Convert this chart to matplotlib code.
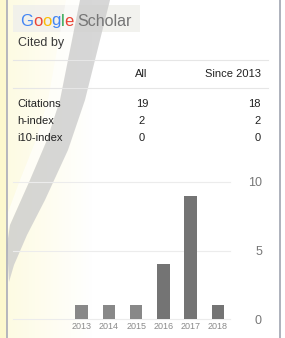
import numpy as np
import matplotlib
matplotlib.use("Agg")
import matplotlib.pyplot as plt
from matplotlib.patches import Polygon, Rectangle
from matplotlib.ft2font import FT2Font
from matplotlib.font_manager import findfont, FontProperties

annees = ["2013", "2014", "2015", "2016", "2017", "2018"]
citations_par_an = [1, 1, 1, 4, 9, 1]
lignes = ["Citations", "h-index", "i10-index"]
valeurs_tout = ["19", "2", "0"]
valeurs_depuis = ["18", "2", "0"]
graduations = [0, 5, 10]

plt.rcParams['font.family'] = ['Liberation Sans', 'DejaVu Sans']

W, H = 285, 338
fig = plt.figure(figsize=(W / 100, H / 100), dpi=100)
fig.patch.set_facecolor("white")

# fond en coordonnées pixels
bg = fig.add_axes([0, 0, 1, 1])
bg.set_xlim(0, W)
bg.set_ylim(H, 0)
bg.axis("off")

# teinte jaune à gauche, qui s'estompe
grad = np.zeros((1, W, 4))
xs = np.arange(W)
grad[0, :, 0] = 0.99
grad[0, :, 1] = 0.97
grad[0, :, 2] = 0.78
grad[0, :, 3] = np.clip(1 - (xs - 7) / 85, 0, 1) * 0.5
grad[0, xs < 7, 3] = 0.85
bg.imshow(grad, extent=(0, W, H, 0), aspect="auto", zorder=0)

# encart du logo
bg.add_patch(Rectangle((13, 5), 127, 27, facecolor="#f0f0ec", edgecolor="none", alpha=0.85, zorder=1))

# bande diagonale : liseré clair puis bande grise
bord_droit = [(110, 0), (85, 100), (68, 150), (45, 200), (27, 235), (14, 265), (9, 282)]
bord_gauche = [(7, 245), (10, 225), (30, 180), (47, 140), (60, 100), (80, 0)]
liseré = [(80, 0), (60, 100), (47, 140), (30, 180), (10, 225), (7, 232), (7, 215), (20, 180),
          (36, 140), (48, 100), (66, 0)]
bg.add_patch(Polygon(liseré, closed=True, facecolor="white", edgecolor="none", alpha=0.6, zorder=2))
bg.add_patch(Polygon(bord_droit + bord_gauche, closed=True, facecolor="#cdcdcd",
                     edgecolor="none", alpha=0.8, zorder=2))

# bords du cadre
bg.plot([7, 7], [0, H], color="#a9abb8", lw=1.2, zorder=3)
bg.plot([280, 280], [0, H], color="#a0a4b0", lw=1.2, zorder=3)
bg.add_patch(Rectangle((281, 0), 4, H, facecolor="white", edgecolor="none", zorder=3))

# logo : lettres placées avec leur avance réelle
police = FT2Font(findfont(FontProperties(family="Liberation Sans")))
police.set_size(12, 100)
x = 20
for lettre, coul in zip("Google", ["#4285F4", "#EA4335", "#FBBC05", "#4285F4", "#34A853", "#EA4335"]):
    bg.text(x, 21, lettre, color=coul, fontsize=12, va="center", ha="left", zorder=4)
    x += police.load_char(ord(lettre)).linearHoriAdvance / 65536
bg.text(x + 4, 21, "Scholar", color="#757575", fontsize=11.5, va="center", ha="left", zorder=4)

bg.text(18, 43, "Cited by", color="#3a3a3a", fontsize=9, va="center", ha="left", zorder=4)

# tableau
bg.plot([13, 268], [60, 60], color="#e6e6e6", lw=0.8, zorder=3)
bg.plot([13, 268], [88, 88], color="#e6e6e6", lw=0.8, zorder=3)
bg.text(141, 74, "All", color="#222222", fontsize=8, va="center", ha="center", zorder=4)
bg.text(261, 74, "Since 2013", color="#222222", fontsize=8, va="center", ha="right", zorder=4)
for i, nom in enumerate(lignes):
    y = 104 + i * 17
    bg.text(17, y, nom, color="#222222", fontsize=8, va="center", ha="left", zorder=4)
    bg.text(142, y, valeurs_tout[i], color="#222222", fontsize=8, va="center", ha="center", zorder=4)
    bg.text(261, y, valeurs_depuis[i], color="#222222", fontsize=8, va="center", ha="right", zorder=4)

# histogramme des citations
ax = fig.add_axes([13 / W, (H - 319) / H, (230 - 13) / W, (319 - 182) / H])
ax.patch.set_alpha(0)
pos = np.arange(len(annees))
couleurs = ["#888888"] * 3 + ["#747474"] * 3
ax.bar(pos, citations_par_an, width=0.46, color=couleurs, zorder=3)
ax.set_xlim(-2.51, 5.44)
ax.set_ylim(0, 10)
ax.set_yticks(graduations)
ax.yaxis.grid(True, color="#ececec", lw=0.8, zorder=0)
for gl in ax.get_ygridlines():
    gl.set_clip_on(False)
ax.yaxis.tick_right()
ax.tick_params(axis="y", length=0, pad=23, labelsize=9, labelcolor="#777777")
for lab in ax.get_yticklabels():
    lab.set_horizontalalignment("right")
ax.set_xticks(pos)
ax.set_xticklabels(annees)
ax.tick_params(axis="x", length=0, pad=2.5, labelsize=6.5, labelcolor="#8a8a8a")
for s in ax.spines.values():
    s.set_visible(False)

fig.savefig("out.png", dpi=100)
